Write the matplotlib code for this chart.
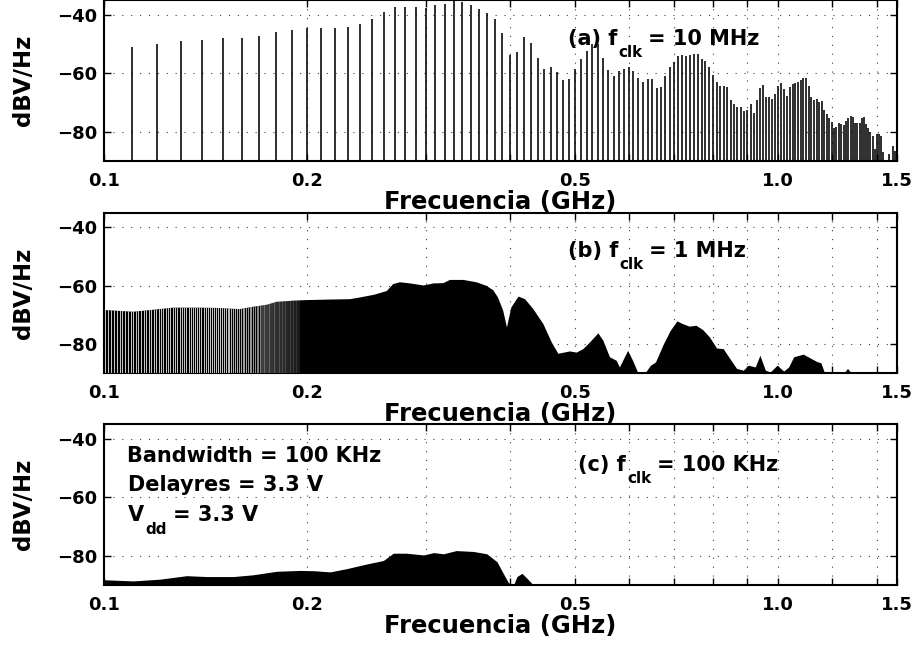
import matplotlib
matplotlib.use("Agg")
import matplotlib.pyplot as plt
from matplotlib.patches import Polygon
from matplotlib.ticker import NullLocator
from matplotlib.transforms import IdentityTransform

plt.rcParams["font.family"] = ["DejaVu Sans"]
plt.rcParams["font.weight"] = "bold"

# ---------------- data ----------------
# (a) fclk = 10 MHz : spectral lines at 10 MHz harmonics (GHz)
freq_a = [round(0.01 * k, 2) for k in range(11, 150)]
level_a = [
    -51.0, -49.8, -48.9, -48.6, -48.0, -47.7, -47.2, -45.7, -45.0, -44.6,   # 0.11-0.20
    -44.5, -44.4, -44.0, -43.2, -41.4, -39.0, -37.4, -37.2, -37.3, -37.5,   # 0.21-0.30
    -36.6, -36.3, -35.0, -35.6, -36.6, -37.9, -39.3, -41.4, -46.2, -53.7,   # 0.31-0.40
    -52.8, -47.4, -49.5, -54.6, -58.4, -57.8, -59.5, -62.4, -62.0, -58.5,   # 0.41-0.50
    -55.2, -52.4, -49.8, -49.8, -54.6, -59.0, -60.9, -59.1, -58.5, -57.9,   # 0.51-0.60
    -59.1, -61.4, -62.9, -61.8, -62.0, -65.0, -64.5, -60.9, -57.9, -56.2,   # 0.61-0.70
    -53.9, -53.6, -54.1, -53.8, -53.5, -53.4, -55.2, -55.7, -57.9, -60.6,   # 0.71-0.80
    -62.9, -64.3, -64.3, -64.8, -69.1, -70.6, -71.4, -71.6, -72.8, -72.6,   # 0.81-0.90
    -70.5, -73.4, -69.1, -65.1, -64.0, -68.2, -68.2, -68.6, -67.1, -64.3,   # 0.91-1.00
    -63.4, -65.5, -67.8, -64.8, -63.7, -63.4, -62.9, -62.3, -61.4, -61.7,   # 1.01-1.10
    -64.3, -68.2, -69.1, -68.9, -69.7, -69.4, -72.4, -73.9, -75.4, -76.6,   # 1.11-1.20
    -78.8, -78.3, -77.1, -77.4, -77.7, -76.2, -75.4, -74.6, -75.1, -76.9,   # 1.21-1.30
    -76.9, -77.1, -75.4, -75.1, -77.4, -78.8, -80.0, -81.5, -86.0, -80.8,   # 1.31-1.40
    -80.8, -81.5, -86.9, -89.5, -89.5, -87.7, -89.5, -84.9, -86.5,          # 1.41-1.49
]

# (b) fclk = 1 MHz : envelope of the dense 1 MHz harmonics
freq_b = [0.100, 0.1105, 0.1197, 0.1267, 0.1388, 0.147, 0.159, 0.1664, 0.1744,
          0.1803, 0.1909, 0.200, 0.2188, 0.2317, 0.2398, 0.2513, 0.2566, 0.2627,
          0.2686, 0.2748, 0.2846, 0.2979, 0.3082, 0.3188, 0.3259, 0.3413, 0.3569,
          0.369, 0.3778, 0.384, 0.391, 0.396, 0.402, 0.412, 0.4213, 0.4333, 0.4484,
          0.4614, 0.472, 0.4912, 0.5025, 0.514, 0.526, 0.541, 0.5503, 0.5629, 0.576,
          0.5823, 0.5989, 0.6091, 0.6196, 0.637, 0.6475, 0.6587, 0.677, 0.693,
          0.709, 0.7216, 0.739, 0.7563, 0.774, 0.792, 0.8115, 0.830, 0.849, 0.869,
          0.889, 0.9047, 0.926, 0.941, 0.9586, 0.975, 0.9978, 1.0205, 1.038, 1.056,
          1.091, 1.115, 1.140, 1.159, 1.172, 1.20, 1.255, 1.269, 1.285, 1.50]
level_b = [-68.3, -68.9, -68.1, -67.5, -67.5, -67.6, -68.0, -67.2, -66.5,
           -65.5, -65.1, -64.9, -64.7, -64.6, -64.0, -63.1, -62.5, -61.8,
           -59.4, -58.8, -59.2, -59.9, -59.2, -59.1, -58.0, -58.0, -58.8,
           -60.0, -61.5, -64.0, -68.6, -74.3, -67.4, -63.7, -64.6, -68.0, -73.1,
           -79.4, -83.3, -82.5, -82.9, -81.7, -79.4, -76.3, -78.8, -84.5, -85.7,
           -88.0, -82.3, -85.7, -89.7, -89.7, -87.4, -86.3, -80.0, -75.4,
           -72.2, -73.1, -74.0, -73.7, -75.2, -77.7, -81.5, -81.7, -85.1, -88.5,
           -89.1, -87.4, -88.0, -84.0, -89.1, -89.7, -87.4, -89.4, -88.0, -84.5,
           -83.6, -84.8, -86.0, -86.6, -89.7, -90.0, -90.0, -88.5, -90.0, -90.0]
clk_b_ghz = 0.001      # harmonic spacing of the 1 MHz clock
resolved_b_ghz = 0.195 # below this the individual harmonics stay visible

# (c) fclk = 100 KHz : envelope
freq_c = [0.100, 0.1105, 0.121, 0.1326, 0.142, 0.1555, 0.1664, 0.1803, 0.1953,
          0.2045, 0.2165, 0.229, 0.2452, 0.2596, 0.2686, 0.281, 0.2979, 0.3082,
          0.3188, 0.333, 0.353, 0.3696, 0.3826, 0.391, 0.3979, 0.405, 0.4097,
          0.4168, 0.424, 0.4333]
level_c = [-88.2, -88.6, -88.0, -86.8, -87.1, -87.1, -86.5, -85.3, -85.0,
           -85.1, -85.5, -84.4, -82.8, -81.6, -79.1, -79.1, -79.7, -78.9,
           -79.3, -78.2, -78.5, -79.3, -82.0, -86.0, -89.2, -90.0, -87.1,
           -86.0, -87.7, -90.0]

tick_pos = [0.1, 0.2, 0.3, 0.4, 0.5, 0.6, 0.7, 0.8, 0.9, 1.0, 1.2, 1.4, 1.5]
tick_lab = ["0.1", "0.2", "", "", "0.5", "", "", "", "", "1.0", "", "", "1.5"]
ytick_pos = [-80, -60, -40]
YMIN, YMAX = -90, -35

# ---------------- figure ----------------
fig = plt.figure(figsize=(9.16, 6.47), dpi=100)
left, width, h = 0.1135, 0.8657, 0.2481
ax_a = fig.add_axes([left, 0.7512, width, h])
ax_b = fig.add_axes([left, 0.4230, width, h])
ax_c = fig.add_axes([left, 0.0958, width, h])


def style(ax):
    ax.set_xscale("log")
    ax.set_xlim(0.1, 1.5)
    ax.set_ylim(YMIN, YMAX)
    ax.xaxis.set_minor_locator(NullLocator())
    ax.set_xticks(tick_pos)
    ax.set_xticklabels(tick_lab)
    ax.set_yticks(ytick_pos)
    ax.tick_params(which="both", direction="in", top=True, right=True,
                   length=5, width=1.0, labelsize=13, pad=8)
    ax.tick_params(axis="y", pad=5)
    for lab in ax.get_xticklabels() + ax.get_yticklabels():
        lab.set_fontweight("bold")
    ax.grid(True, linestyle=(0, (1, 7)), color="0.25", linewidth=0.8)
    ax.set_axisbelow(True)
    for s in ax.spines.values():
        s.set_linewidth(1.5)
    ax.set_xlabel("Frecuencia (GHz)", fontsize=17.5, fontweight="bold")
    ax.xaxis.label.set_va("center")
    ax.xaxis.set_label_coords(0.5, -0.255)
    ax.set_ylabel("dBV/Hz", fontsize=16.5, fontweight="bold")
    ax.yaxis.label.set_va("center")
    ax.yaxis.set_label_coords(-0.101, 0.5)


for ax in (ax_a, ax_b, ax_c):
    style(ax)

renderer = fig.canvas.get_renderer()


def sub_text(ax, x, y, head, sub, tail, size=15, sub_size=11, drop=12):
    """MATLAB-like text with a deep subscript: head + sub + tail."""
    t1 = ax.text(x, y, head, fontsize=size, fontweight="bold",
                 va="baseline", ha="left")
    bb = t1.get_window_extent(renderer)
    _, yb = ax.transData.transform((x, y))
    t2 = fig.text(bb.x1 + 1, yb - drop, sub, fontsize=sub_size,
                  fontweight="bold", va="baseline", ha="left",
                  transform=IdentityTransform())
    bb2 = t2.get_window_extent(renderer)
    fig.text(bb2.x1 + 6, yb, tail, fontsize=size, fontweight="bold",
             va="baseline", ha="left", transform=IdentityTransform())


# (a) stems
ax_a.vlines(freq_a, YMIN, level_a, colors="k", linewidth=1.15, zorder=2)
sub_text(ax_a, 0.487, -50.3, "(a) f", "clk", "= 10 MHz")

# (b) envelope of the dense harmonics, with the resolved low harmonics
verts_b = [(freq_b[0], YMIN - 1)] + list(zip(freq_b, level_b)) + [(freq_b[-1], YMIN - 1)]
env_b = Polygon(verts_b, closed=True, facecolor="k", edgecolor="none", zorder=2)
ax_b.add_patch(env_b)
n_gap = int(round((resolved_b_ghz - freq_b[0]) / clk_b_ghz))
gaps_b = [freq_b[0] + (k + 0.5) * clk_b_ghz for k in range(n_gap)]
# gaps between harmonics narrow as the log axis compresses them
gap_w = [0.55 if g < 0.15 else max(0.1, 0.55 - (g - 0.15) * 9.0) for g in gaps_b]
lc = ax_b.vlines(gaps_b, YMIN - 1, YMAX + 1, colors="w", linewidth=gap_w, zorder=3)
lc.set_clip_path(env_b)
sub_text(ax_b, 0.487, -50.1, "(b) f", "clk", "= 1 MHz")

# (c) filled envelope
ax_c.fill_between(freq_c, YMIN, level_c, color="k", linewidth=0, zorder=2)
sub_text(ax_c, 0.505, -50.8, "(c) f", "clk", "= 100 KHz")
ax_c.text(0.108, -47.7, "Bandwidth = 100 KHz", fontsize=15, fontweight="bold",
          va="baseline", ha="left")
ax_c.text(0.1086, -57.7, "Delayres = 3.3 V", fontsize=15, fontweight="bold",
          va="baseline", ha="left")
sub_text(ax_c, 0.1086, -68.2, "V", "dd", "= 3.3 V", drop=13)

fig.savefig("out.png", dpi=100)
